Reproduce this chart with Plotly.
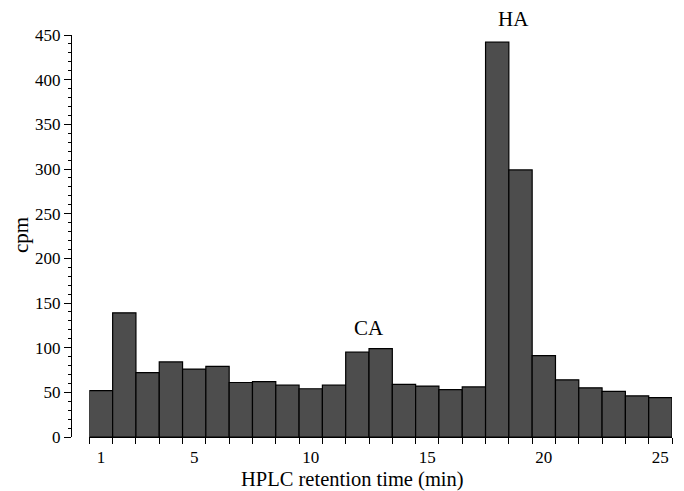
import plotly.graph_objects as go

minutes = list(range(1, 26))
cpm = [52, 139, 72, 84, 76, 79, 61, 62, 58, 54, 58, 95, 99, 59, 57, 53, 56, 442, 299, 91, 64, 55, 51, 46, 44]
x_tick_vals = [1, 5, 10, 15, 20, 25]
peak_labels = ["CA", "HA"]
peak_x = [12.5, 18.7]
peak_y = [122, 468]

FONT = "Liberation Serif, Times New Roman, serif"

W, H = 684, 491
ml, mr, mt, mb = 71, 12, 35, 54
pw, ph = W - ml - mr, H - mt - mb
YMAX = 450.0

fig = go.Figure()
fig.add_trace(go.Bar(
    x=minutes, y=cpm, width=1.0,
    marker=dict(color="#4d4d4d", line=dict(color="black", width=1.2)),
))

x0, x1 = 0.5, 25.5
dom0 = 0.0305
for t, px, py in zip(peak_labels, peak_x, peak_y):
    fx = dom0 + (1 - dom0) * (px - x0) / (x1 - x0)
    fig.add_annotation(x=fx, y=py / YMAX, text=t, showarrow=False, xref="paper", yref="paper",
                       xanchor="center", yanchor="middle",
                       font=dict(family=FONT, size=21, color="black"))

fig.add_annotation(x=(352 - ml) / pw, y=(H - mb - 480) / ph, xref="paper", yref="paper",
                   text="HPLC retention time (min)", showarrow=False,
                   xanchor="center", yanchor="middle",
                   font=dict(family=FONT, size=20.5, color="black"))

fig.add_annotation(x=(21 - ml) / pw, y=((H - mb) - 235) / ph, xref="paper", yref="paper",
                   text="cpm", textangle=-90, showarrow=False,
                   xanchor="center", yanchor="middle",
                   font=dict(family=FONT, size=21, color="black"))

fig.update_layout(
    width=W, height=H,
    margin=dict(l=ml, r=mr, t=mt, b=mb),
    paper_bgcolor="white", plot_bgcolor="white",
    showlegend=False,
    font=dict(family=FONT, size=17, color="black"),
    xaxis=dict(
        domain=[dom0, 1], range=[x0, x1],
        tickvals=x_tick_vals, ticktext=[str(v) for v in x_tick_vals],
        ticks="outside", ticklen=5, tickcolor="rgba(0,0,0,0)",
        minor=dict(tick0=0.5, dtick=1, ticks="outside", ticklen=6, tickcolor="black", showgrid=False),
        showline=True, linecolor="black", linewidth=1,
        showgrid=False, zeroline=False,
        tickfont=dict(family=FONT, size=17, color="black"),
    ),
    yaxis=dict(
        range=[0, YMAX], anchor="free", position=0,
        tickvals=list(range(0, 451, 50)),
        ticks="outside", ticklen=7, tickcolor="black",
        minor=dict(dtick=10, ticks="outside", ticklen=3, tickcolor="black", showgrid=False),
        showline=True, linecolor="black", linewidth=1,
        showgrid=False, zeroline=False,
        tickfont=dict(family=FONT, size=17, color="black"),
    ),
)

fig.write_html("out.html")
